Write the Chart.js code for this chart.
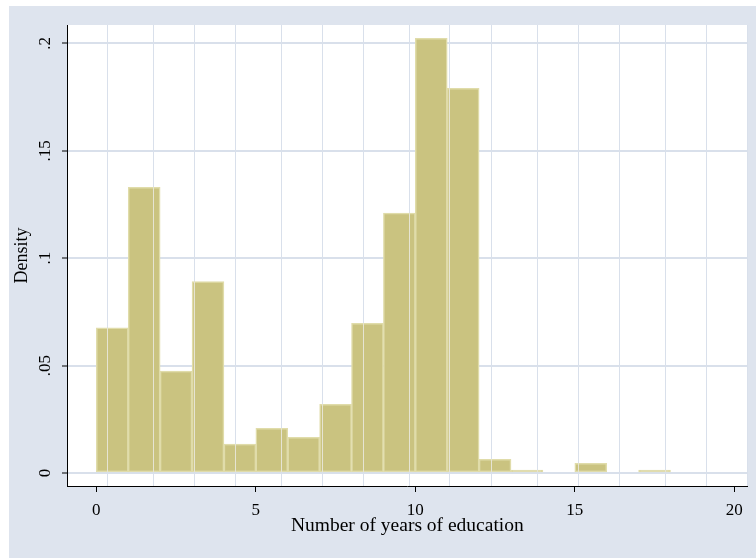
<!DOCTYPE html>
<html>
<head>
<meta charset="utf-8">
<title>Number of years of education — histogram</title>
<script src="https://cdn.jsdelivr.net/npm/chart.js@4"></script>
<style>
  html, body { margin: 0; padding: 0; background: #ffffff; }
  canvas { display: block; }
</style>
</head>
<body>
<canvas id="hist" width="756" height="558"></canvas>
<script>
// Histogram bins (width 1 year), lower edge of each bin
const binStarts = [0, 1, 2, 3, 4, 5, 6, 7, 8, 9, 10, 11, 12, 13, 14, 15, 16, 17];
// Density for each bin
const density = [0.0676, 0.133, 0.0475, 0.0891, 0.0135, 0.0208, 0.0166, 0.032, 0.0697,
                 0.121, 0.2024, 0.1791, 0.0064, 0.0014, 0, 0.0045, 0, 0.0014];

// Axis ticks and labels
const xTicks = [0, 5, 10, 15, 20];
const yTicks = [0, 0.05, 0.1, 0.15, 0.2];
const yTickLabels = ['0', '.05', '.1', '.15', '.2'];

// Vertical grid lines (in years)
const xGridLines = [0.33, 1.77, 3.06, 4.34, 5.78, 7.07, 8.36, 9.79, 11.07, 12.36,
                    13.81, 15.10, 16.39, 17.83, 19.12, 20.40];

const SERIF = "'Liberation Serif', 'Times New Roman', serif";
const BG = '#dee4ee';
const GRID = '#d9e0eb';

const backgroundPlugin = {
  id: 'panelBackground',
  beforeDraw(chart) {
    const { ctx, chartArea: a } = chart;
    ctx.save();
    ctx.fillStyle = '#ffffff';
    ctx.fillRect(0, 0, chart.width, chart.height);
    ctx.fillStyle = BG;
    ctx.fillRect(9, 6, chart.width - 9, chart.height - 6);
    ctx.fillStyle = '#ffffff';
    ctx.fillRect(a.left, a.top, a.right - a.left, a.bottom - a.top);
    ctx.restore();
  }
};

function strokeVerticals(chart, color) {
  const { ctx, chartArea: a, scales: { x } } = chart;
  ctx.strokeStyle = color;
  ctx.lineWidth = 1;
  ctx.beginPath();
  xGridLines.forEach(v => {
    const px = Math.round(x.getPixelForValue(v)) + 0.5;
    ctx.moveTo(px, a.top);
    ctx.lineTo(px, a.bottom);
  });
  ctx.stroke();
}

const verticalGridPlugin = {
  id: 'verticalGrid',
  beforeDatasetsDraw(chart) {
    const { ctx } = chart;
    ctx.save();
    strokeVerticals(chart, GRID);
    ctx.restore();
  },
  afterDatasetsDraw(chart) {
    // the grid shows faintly through the bars
    const { ctx } = chart;
    const bars = chart.getDatasetMeta(0).data;
    ctx.save();
    ctx.beginPath();
    bars.forEach(b => {
      const p = b.getProps(['x', 'y', 'base', 'width'], true);
      const h = p.base - p.y;
      if (h > 0) ctx.rect(p.x - p.width / 2, p.y, p.width, h);
    });
    ctx.clip();
    strokeVerticals(chart, '#e6e4d3');
    ctx.restore();
  }
};

new Chart(document.getElementById('hist'), {
  type: 'bar',
  data: {
    datasets: [{
      label: 'Density',
      data: binStarts.map((s, i) => ({ x: s + 0.5, y: density[i] })),
      backgroundColor: '#cac380',
      borderColor: '#e0dcaa',
      borderWidth: 1.5,
      borderSkipped: false,
      barPercentage: 1,
      categoryPercentage: 1
    }]
  },
  options: {
    responsive: false,
    animation: false,
    devicePixelRatio: 1,
    layout: { padding: { top: 25, right: 8.3, bottom: 0, left: 0 } },
    plugins: {
      legend: { display: false },
      tooltip: { enabled: false }
    },
    scales: {
      x: {
        type: 'linear',
        min: -0.92,
        max: 20.42,
        offset: false,
        afterBuildTicks: s => { s.ticks = xTicks.map(v => ({ value: v })); },
        afterFit: s => { s.height = 72; },
        grid: {
          offset: false,
          drawOnChartArea: false,
          drawTicks: true,
          tickLength: 6,
          tickColor: '#000000',
          tickWidth: 1
        },
        border: { display: true, color: '#000000', width: 1 },
        ticks: {
          autoSkip: false,
          maxRotation: 0,
          padding: 8,
          color: '#000000',
          font: { family: SERIF, size: 17 },
          callback: v => String(v)
        },
        title: {
          display: true,
          text: 'Number of years of education',
          color: '#000000',
          font: { family: SERIF, size: 19.5 },
          padding: { top: 0, bottom: 20 }
        }
      },
      y: {
        type: 'linear',
        min: -0.00605,
        max: 0.2086,
        afterBuildTicks: s => { s.ticks = yTicks.map(v => ({ value: v })); },
        afterFit: s => { s.width = 67; },
        grid: {
          color: GRID,
          lineWidth: 2,
          drawTicks: true,
          tickLength: 5,
          tickColor: '#000000',
          tickWidth: 1
        },
        border: { display: true, color: '#000000', width: 1 },
        ticks: {
          autoSkip: false,
          minRotation: 90,
          maxRotation: 90,
          crossAlign: 'center',
          padding: 6,
          color: '#000000',
          font: { family: SERIF, size: 17 },
          callback: v => {
            const i = yTicks.indexOf(v);
            return i >= 0 ? yTickLabels[i] : '';
          }
        },
        title: {
          display: true,
          text: 'Density',
          color: '#000000',
          font: { family: SERIF, size: 18 },
          padding: { top: 11, bottom: 0 }
        }
      }
    }
  },
  plugins: [backgroundPlugin, verticalGridPlugin]
});
</script>
</body>
</html>
